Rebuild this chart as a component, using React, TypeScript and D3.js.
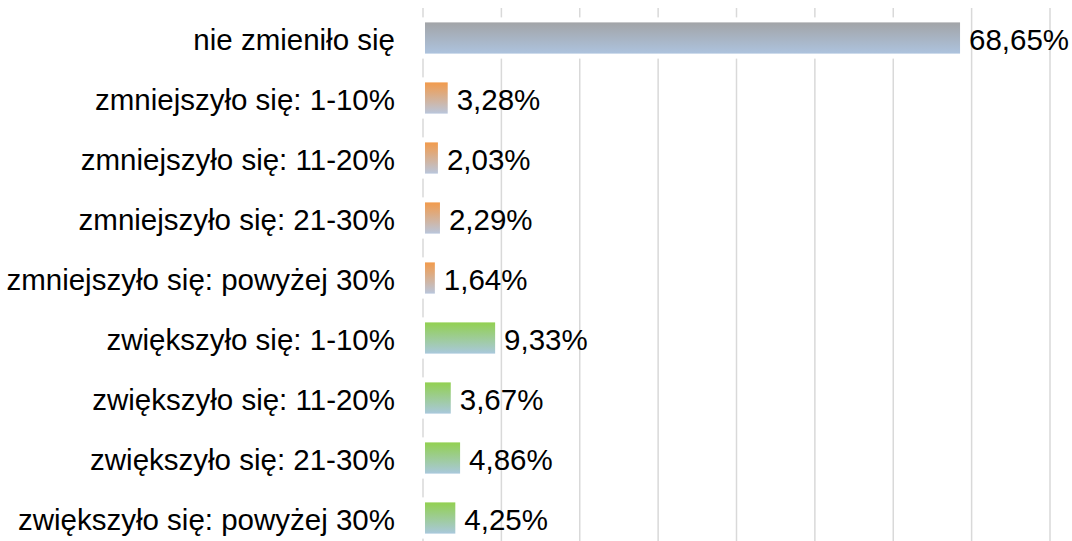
import { useEffect, useRef } from 'react';
import * as d3 from 'd3';

const categories = [
  'nie zmieniło się',
  'zmniejszyło się: 1-10%',
  'zmniejszyło się: 11-20%',
  'zmniejszyło się: 21-30%',
  'zmniejszyło się: powyżej 30%',
  'zwiększyło się: 1-10%',
  'zwiększyło się: 11-20%',
  'zwiększyło się: 21-30%',
  'zwiększyło się: powyżej 30%',
];

const values = [68.65, 3.28, 2.03, 2.29, 1.64, 9.33, 3.67, 4.86, 4.25];

// which colour group each bar belongs to
const groups = ['same', 'down', 'down', 'down', 'down', 'up', 'up', 'up', 'up'];

const gridTicks = [0, 10, 20, 30, 40, 50, 60, 70, 80];

const gradients: Record<string, [string, string]> = {
  same: ['#a2a4a7', '#adc3de'],
  down: ['#f29b4c', '#b9c6dc'],
  up: ['#92d050', '#a9c8dc'],
};

const W = 1072;
const H = 541;
const FONT = "'Liberation Sans', Arial, sans-serif";

const App = () => {
  const svgRef = useRef<SVGSVGElement>(null);

  useEffect(() => {
    const svg = d3.select(svgRef.current);
    svg.selectAll('*').remove();

    const x = d3.scaleLinear().domain([0, 80]).range([423, 1050]);
    const y = d3
      .scaleBand()
      .domain(categories)
      .range([8, 548])
      .paddingInner(0.48)
      .paddingOuter(0.24);

    const defs = svg.append('defs');
    Object.entries(gradients).forEach(([key, [top, bottom]]) => {
      const g = defs
        .append('linearGradient')
        .attr('id', `grad-${key}`)
        .attr('x1', 0)
        .attr('y1', 0)
        .attr('x2', 0)
        .attr('y2', 1);
      g.append('stop').attr('offset', '0%').attr('stop-color', top);
      g.append('stop').attr('offset', '100%').attr('stop-color', bottom);
    });

    // vertical gridlines (first one doubles as the axis)
    svg
      .append('g')
      .selectAll('line')
      .data(gridTicks)
      .join('line')
      .attr('x1', (d) => x(d))
      .attr('x2', (d) => x(d))
      .attr('y1', 8)
      .attr('y2', H)
      .attr('stroke', '#d9d9d9')
      .attr('stroke-width', 1.5);

    const rows = svg
      .append('g')
      .selectAll('g')
      .data(values)
      .join('g');

    // white halo behind each bar hides the gridlines
    rows
      .append('rect')
      .attr('x', x(0) - 3)
      .attr('y', (_, i) => y(categories[i])! - 5)
      .attr('width', (d) => x(d) - x(0) + 5)
      .attr('height', y.bandwidth() + 10)
      .attr('fill', '#fff');

    rows
      .append('rect')
      .attr('x', x(0) + 2)
      .attr('y', (_, i) => y(categories[i])!)
      .attr('width', (d) => x(d) - x(0) - 3)
      .attr('height', y.bandwidth())
      .attr('fill', (_, i) => `url(#grad-${groups[i]})`);

    rows
      .append('text')
      .attr('x', (d) => x(d) + 8)
      .attr('y', (_, i) => y(categories[i])! + y.bandwidth() / 2 + 12)
      .attr('font-family', FONT)
      .attr('font-size', 29.5)
      .attr('fill', '#000')
      .text((d) => d.toFixed(2).replace('.', ',') + '%');

    svg
      .append('g')
      .selectAll('text')
      .data(categories)
      .join('text')
      .attr('x', 395)
      .attr('y', (d) => y(d)! + y.bandwidth() / 2 + 12)
      .attr('text-anchor', 'end')
      .attr('font-family', FONT)
      .attr('font-size', 29.5)
      .attr('fill', '#000')
      .text((d) => d);
  }, []);

  return (
    <svg
      ref={svgRef}
      width={W}
      height={H}
      style={{ position: 'absolute', left: 0, top: 0, background: '#fff' }}
    />
  );
};

export default App;
